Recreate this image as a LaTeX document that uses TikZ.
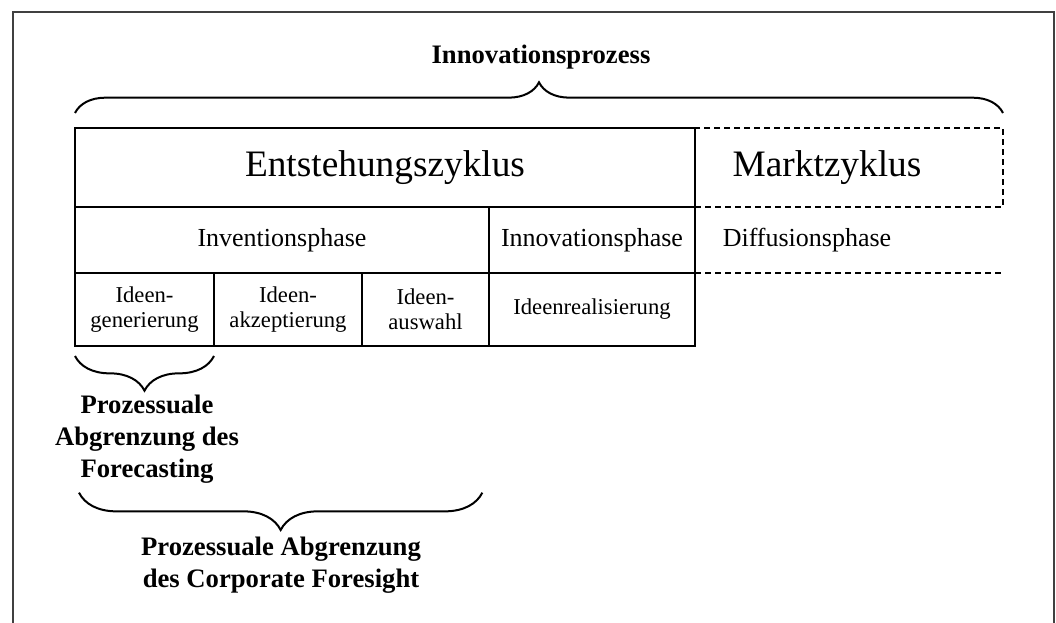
\documentclass[tikz,border=0pt]{standalone}
\usepackage{fontspec}
\setmainfont{Liberation Serif}
\usetikzlibrary{decorations.pathreplacing}

\begin{document}
\begin{tikzpicture}[x=0.75pt,y=-0.75pt,
    cell/.style={draw,line width=1.2pt,inner sep=0pt,outer sep=0pt,anchor=north west,align=center},
    bigcell/.style={cell,minimum height=59.25pt,font=\fontsize{28}{32}\selectfont},
    phasecell/.style={cell,minimum height=49.5pt,font=\fontsize{19.5}{22}\selectfont},
    stepcell/.style={cell,minimum height=54.75pt,font=\fontsize{17}{18.5}\selectfont},
    dashedline/.style={line width=1.2pt,dash pattern=on 4.5pt off 3pt},
    curly/.style={decorate,decoration={brace,amplitude=#1},line width=1.5pt},
    headline/.style={font=\fontsize{20}{24}\selectfont\bfseries,align=center}
    ]

    \useasboundingbox (0,0) rectangle (1056,623);
    % frame
    \draw[line width=1.1pt,black!75] (13,623) -- (13,12) -- (1054,12) -- (1054,623);

    \node[headline] (prozess) at (541,57) {Innovationsprozess};

    % cycles
    \node[bigcell,minimum width=465pt] (ent) at (75,128) {Entstehungszyklus};
    \node[bigcell,dashedline,minimum width=231pt] (markt) at (ent.north east) {Marktzyklus\hspace*{33pt}};

    % phases
    \node[phasecell,minimum width=310.5pt] (invent) at (ent.south west) {Inventionsphase};
    \node[phasecell,minimum width=154.5pt] (innov) at (invent.north east) {Innovationsphase};
    \node[phasecell,draw=none,minimum width=231pt] (diff) at (innov.north east) {Diffusionsphase\hspace*{63pt}};
    \draw[dashedline] (diff.south west) -- (diff.south east);

    % steps
    \node[stepcell,minimum width=104.25pt] (gen) at (invent.south west) {Ideen-\\generierung};
    \node[stepcell,minimum width=111pt] (akz) at (gen.north east) {Ideen-\\akzeptierung};
    \node[stepcell,minimum width=95.25pt] (ausw) at (akz.north east) {Ideen-\\auswahl};
    \node[stepcell,minimum width=154.5pt] (real) at (ausw.north east) {Ideenrealisierung};

    % braces
    \draw[curly=23pt] ([yshift=11.25pt]ent.north west) -- ([yshift=11.25pt]markt.north east);
    \draw[curly=26pt] ([yshift=-7.5pt]gen.south east) -- ([yshift=-7.5pt]gen.south west);
    \node[headline] (forecast) at (147,439) {Prozessuale\\Abgrenzung des\\Forecasting};
    \draw[curly=28pt] ([xshift=-5pt,yshift=-110pt]ausw.south east) -- ([xshift=3pt,yshift=-110pt]gen.south west);
    \node[headline] (foresight) at (281,565) {Prozessuale Abgrenzung\\des Corporate Foresight};
\end{tikzpicture}
\end{document}
